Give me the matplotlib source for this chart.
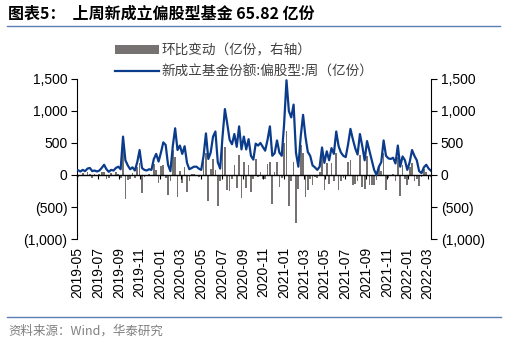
import matplotlib
matplotlib.use("Agg")
import matplotlib.pyplot as plt
import matplotlib.dates as mdates
import matplotlib.ticker as mticker
import numpy as np
import pandas as pd

plt.rcParams['font.family'] = ['Liberation Sans', 'Noto Sans CJK SC', 'DejaVu Sans']

title = "图表5：  上周新成立偏股型基金 65.82 亿份"
bar_label = "环比变动（亿份，右轴）"
line_label = "新成立基金份额:偏股型:周（亿份）"
source = "资料来源：Wind，华泰研究"

dates = pd.date_range("2019-05-03", "2022-03-11", freq="7D")

line_values = [
    75, 55, 80, 60, 100, 110, 60, 70, 55, 70,
    110, 160, 90, 50, 80, 70, 110, 130, 90, 600,
    230, 150, 90, 120, 70, 200, 390, 110, 80, 70,
    90, 80, 250, 330, 210, 350, 510, 470, 160, 60,
    450, 730, 390, 460, 330, 450, 190, 90, 110, 130,
    130, 100, 80, 300, 650, 250, 350, 600, 680, 200,
    100, 600, 1030, 800, 550, 480, 640, 440, 760, 400,
    600, 400, 560, 300, 240, 490, 460, 500, 440, 380,
    550, 760, 300, 340, 540, 350, 300, 800, 1480, 1000,
    900, 1100, 350, 130, 600, 940, 600, 360, 300, 150,
    120, 80, 130, 430, 190, 370, 230, 420, 330, 680,
    450, 350, 300, 280, 480, 720, 560, 420, 320, 640,
    450, 230, 530, 380, 230, 80, 0, 130, 200, 540,
    300, 260, 250, 270, 180, 460, 130, 290, 230, 80,
    200, 390, 300, 230, 60, 30, 120, 160, 100, 65.82,
]

change_values = [
    -30, -20, 25, -20, 40, 10, -50, 10, -15, 15,
    40, 50, -70, -40, 30, -10, 40, 20, -40, 510,
    -370, -80, -60, 30, -50, 130, 190, -280, -30, -10,
    20, -10, 170, 80, -120, 140, 160, -40, -310, -100,
    390, 280, -340, 70, -130, 120, -260, -100, 20, 20,
    0, -30, -20, 220, 350, -400, 100, 250, 80, -480,
    -100, 500, 430, -230, -250, -70, 160, -200, 320, -360,
    200, -200, 160, -260, -60, 250, -30, 40, -60, -60,
    170, 210, -460, 40, 200, -190, -50, 500, 680, -480,
    -100, 200, -750, -220, 470, 340, -340, -240, -60, -150,
    -30, -40, 50, 300, -240, 180, -140, 190, -90, 350,
    -230, -100, -50, -20, 200, 240, -160, -140, -100, 320,
    -190, -220, 300, -150, -150, -150, -80, 130, 70, 340,
    -240, -40, -10, 20, -90, 280, -330, 160, -60, -150,
    120, 190, -90, -70, -170, -30, 90, 40, -60, -34.18,
]

yticks = [-1000, -500, 0, 500, 1000, 1500]

def fmt(v, pos=None):
    if v < 0:
        return "({:,.0f})".format(-v)
    return "{:,.0f}".format(v)

fig = plt.figure(figsize=(5.18, 3.46), dpi=100)
ax = fig.add_axes([77/518, (346-239)/346, (431-77)/518, 160/346])
ax2 = ax.twinx()

ax2.bar(dates, change_values, width=5.0, color="#767272", label=bar_label, zorder=2)
ax.plot(dates, line_values, color="#0b3c8c", lw=1.6, label=line_label, zorder=3,
        solid_joinstyle='round')

ax.set_zorder(ax2.get_zorder() + 1)
ax.patch.set_visible(False)

for a in (ax, ax2):
    a.set_ylim(-1000, 1500)
    a.set_yticks(yticks)
    a.yaxis.set_major_formatter(mticker.FuncFormatter(fmt))
    a.spines['top'].set_visible(False)
    a.tick_params(axis='y', labelsize=10, length=4, width=0.8, colors="black", pad=3)
ax2.spines['bottom'].set_visible(False)
ax2.spines['left'].set_visible(False)
ax.spines['right'].set_visible(False)

ax.set_xlim(pd.Timestamp("2019-04-30"), pd.Timestamp("2022-03-11"))
months = mdates.MonthLocator(bymonth=[1, 3, 5, 7, 9, 11])
ax.xaxis.set_major_locator(months)
ax.spines['bottom'].set_position(('data', 0))
ax.spines['bottom'].set_linewidth(1.0)
ax.tick_params(axis='x', labelbottom=False, length=3, width=0.8, direction='out')

sec = ax.secondary_xaxis('bottom')
sec.xaxis.set_major_locator(mdates.MonthLocator(bymonth=[1, 3, 5, 7, 9, 11]))
sec.xaxis.set_major_formatter(mdates.DateFormatter("%Y-%m"))
sec.spines['bottom'].set_visible(False)
sec.tick_params(axis='x', length=0, labelsize=10, rotation=90, pad=6)

h1, l1 = ax2.get_legend_handles_labels()
h2, l2 = ax.get_legend_handles_labels()
leg = fig.legend(h1 + h2, l1 + l2, loc='upper left', bbox_to_anchor=(110/518, 1 - 38/346),
                 frameon=False, handlelength=3.2, handleheight=0.6,
                 labelspacing=0.55, borderaxespad=0, handletextpad=0.15,
                 prop={'family': ['Noto Sans CJK SC'], 'size': 9.8})
for t in leg.get_texts():
    t.set_color("#404040")

fig.text(8/518, 1 - 14/346, title, fontsize=11.5, fontweight='bold',
         family=['Noto Sans CJK SC', 'DejaVu Sans'], va='center', ha='left')
fig.add_artist(plt.Line2D([7/518, 500/518], [1 - 26/346, 1 - 26/346], color="#5b7fb5", lw=1.0))
fig.add_artist(plt.Line2D([7/518, 501/518], [1 - 317/346, 1 - 317/346], color="#5b7fb5", lw=1.0))
fig.text(8/518, 1 - 331/346, source, fontsize=9, color="#808080",
         family=['Noto Sans CJK SC', 'DejaVu Sans'], va='center', ha='left')

fig.savefig("out.png", dpi=100)
